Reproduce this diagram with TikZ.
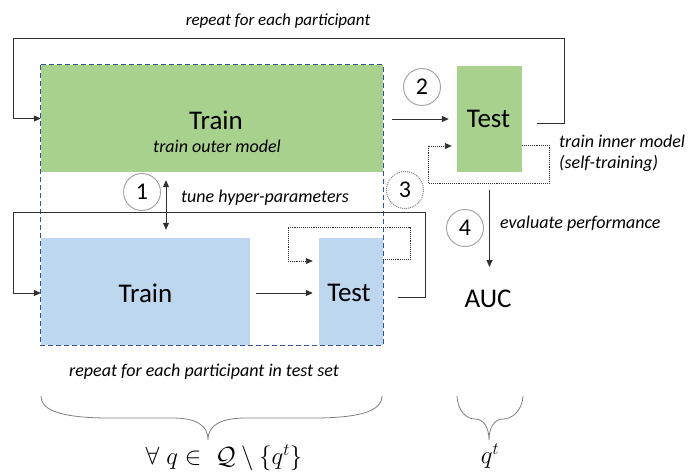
\documentclass[tikz,border=0pt]{standalone}
\usepackage{fontspec}
\setmainfont{Carlito}
\usepackage{amsmath}
\usetikzlibrary{arrows.meta,calc}

\definecolor{trainGreen}{HTML}{A9D18E}
\definecolor{testBlue}{HTML}{BDD7EE}
\definecolor{frameBlue}{HTML}{2F5597}
\definecolor{lineGray}{HTML}{303030}
\definecolor{ringGray}{HTML}{A6A6A6}
\definecolor{dotGray}{HTML}{7F7F7F}

\tikzset{
  greenbox/.style={fill=trainGreen, draw=none, inner sep=0pt},
  bluebox/.style={fill=testBlue, draw=none, inner sep=0pt},
  bigtext/.style={font=\fontsize{27}{30}\selectfont, inner sep=0pt},
  note/.style={font=\fontsize{18}{22}\selectfont\itshape, inner sep=0pt},
  flow/.style={draw=lineGray, line width=1pt, -{Triangle[length=7pt,width=6pt]}},
  backloop/.style={draw=lineGray, line width=0.9pt, densely dotted, -{Triangle[length=7pt,width=6pt]}},
  stepnum/.style={circle, draw=ringGray, line width=1pt, fill=white, minimum size=37pt, inner sep=0pt, font=\fontsize{24}{26}\selectfont},
  bracket/.style={draw=dotGray, line width=0.8pt}
}

\begin{document}
\begin{tikzpicture}[x=1pt,y=-1pt]
\useasboundingbox (0,0) rectangle (688,475);

% boxes
\node[greenbox, minimum width=342pt, minimum height=107pt] (trainOut) at (212,118.5) {};
\node[greenbox, minimum width=65pt, minimum height=106pt] (testOut) at (489.5,119) {};
\node[bluebox, minimum width=209pt, minimum height=107pt] (trainIn) at (145.5,291.5) {};
\node[bluebox, minimum width=64pt, minimum height=107pt] (testIn) at (351,291.5) {};
\draw[frameBlue, line width=1.1pt, dash pattern=on 5pt off 3pt] (trainOut.north west) rectangle (testIn.south east);

% texts in boxes
\node[bigtext] (trainOutTxt) at (216,120) {Train};
\node[note] (outerTxt) at (217,146) {train outer model};
\node[bigtext] (testOutTxt) at (488.5,119) {Test};
\node[bigtext] (trainInTxt) at (145.5,293) {Train};
\node[bigtext] (testInTxt) at (349,293) {Test};
\node[bigtext] (auc) at (488,299) {AUC};

% labels
\node[note, font=\fontsize{17}{20}\selectfont\itshape] (outerLoopTxt) at (278,21) {repeat for each participant};
\node[note] (tuneTxt) at (265,198) {tune hyper-parameters};
\node[note, anchor=west] (innerTxt) at (559,141) {train inner model};
\node[note, anchor=west] (selfTxt) at (559,163) {(self-training)};
\node[note, anchor=west] (evalTxt) at (500,224) {evaluate performance};
\node[note] (innerLoopTxt) at (204,372) {repeat for each participant in test set};

% outer loop
\coordinate (topR) at (564,38);
\coordinate (topL) at (13,38);
\draw[flow] ($(testOut.east)+(15,4)$) -| (topR) -- (topL) |- (trainOut.west);
\draw[flow, shorten <=9pt, shorten >=8pt] (trainOut.east |- testOut.west) -- (testOut.west);
\draw[backloop] ($(testOut.east)+(0,26)$) -- ++(27,0) -- ++(0,38) -- ++(-121,0) -- ++(0,-37) -- ($(testOut.west)+(-5,27)$);

% inner loop
\coordinate (midR) at (425,212);
\coordinate (midL) at (13,212);
\draw[flow] ($(testIn.east)+(15,5.5)$) -| (midR) -- (midL) |- ($(trainIn.west)+(0,1.5)$);
\draw[flow, shorten <=6pt, shorten >=6pt] ($(trainIn.east)+(0,1.5)$) -- ($(testIn.west)+(0,1.5)$);
\draw[backloop] ($(testIn.east)+(0,-32.5)$) -- ++(27,0) -- ++(0,-32) -- ++(-122,0) -- ++(0,34) -- ($(testIn.west)+(-6,-30.5)$);

% tuning and evaluation
\draw[flow, {Triangle[length=7pt,width=6pt]}-{Triangle[length=7pt,width=6pt]}] ($(trainOut.south)+(-46,8)$) -- ($(trainIn.north)+(20.5,-8)$);
\coordinate (evalEnd) at (489.5,267);
\draw[flow] ($(testOut.south)+(0,18)$) -- (evalEnd);

% step numbers
\node[stepnum] (one) at (142,192) {1};
\node[stepnum] (two) at (422,87) {2};
\node[stepnum, draw=dotGray, densely dotted] (three) at (405,190) {3};
\node[stepnum] (four) at (465,228) {4};

% braces
\draw[bracket] (41,396) .. controls (41,410) and (60,418) .. (110,418) -- (172,418)
  .. controls (196,418) and (208,425) .. (208,440)
  .. controls (208,425) and (221,418) .. (246,418) -- (313,418)
  .. controls (363,418) and (382,410) .. (382,396);
\draw[bracket] (457,396) .. controls (458,412) and (467,419) .. (475,419)
  .. controls (484,419) and (489,428) .. (489,440)
  .. controls (489,428) and (494,419) .. (503,419)
  .. controls (511,419) and (522,412) .. (523,396);
\node[font=\fontsize{23}{25}\selectfont, inner sep=0pt] (allQ) at (224,458) {$\forall\; q \in\; \mathcal{Q} \setminus \{q^t\}$};
\node[font=\fontsize{23}{25}\selectfont, inner sep=0pt] (oneQ) at (490,456) {$q^t$};
\end{tikzpicture}
\end{document}
